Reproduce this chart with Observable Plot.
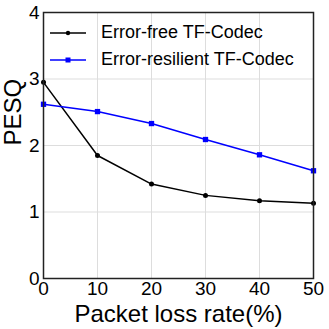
<!DOCTYPE html>
<html><head><meta charset="utf-8">
<script src="https://cdn.jsdelivr.net/npm/d3@7"></script>
<script src="https://cdn.jsdelivr.net/npm/@observablehq/plot@0.6"></script>
<style>
body{margin:0;background:#fff;font-family:"Liberation Sans",Arial,sans-serif;}
#wrap{position:relative;width:329px;height:329px;}
#legend{position:absolute;left:50px;top:19px;font-size:18px;line-height:27px;color:#000;}
#legend div{display:flex;align-items:center;white-space:nowrap;}
#legend svg{margin-right:15px;}
</style></head><body>
<div id="wrap"><div id="legend"></div></div>
<script>
const lossRates = [0, 10, 20, 30, 40, 50];
const errorFree = [2.95, 1.85, 1.42, 1.25, 1.17, 1.13];
const errorResilient = [2.62, 2.51, 2.33, 2.09, 1.86, 1.62];
const seriesNames = ["Error-free TF-Codec", "Error-resilient TF-Codec"];
const seriesColors = ["#000000", "#0000ff"];
const xTicks = [0, 10, 20, 30, 40, 50];
const yTicks = [0, 1, 2, 3, 4];

const dataFree = lossRates.map((x, i) => ({x, y: errorFree[i]}));
const dataRes = lossRates.map((x, i) => ({x, y: errorResilient[i]}));

const chart = Plot.plot({
  width: 329, height: 329,
  marginLeft: 43, marginRight: 16, marginTop: 12, marginBottom: 51,
  style: {fontFamily: "Liberation Sans, Arial, sans-serif", fontSize: "19px", color: "#000", background: "#fff"},
  x: {domain: [0, 50], ticks: xTicks, label: null},
  y: {domain: [0, 4], ticks: yTicks, label: null},
  marks: [
    Plot.gridX(xTicks, {stroke: "#ddd", strokeOpacity: 1}),
    Plot.gridY(yTicks, {stroke: "#ddd", strokeOpacity: 1}),
    Plot.axisX({ticks: xTicks, tickSize: 0, tickPadding: 3, fontSize: 19, label: null, tickFormat: d3.format("d")}),
    Plot.axisY({ticks: yTicks, tickSize: 0, tickPadding: 4, fontSize: 19, label: null, tickFormat: d3.format("d")}),
    Plot.line(dataFree, {x: "x", y: "y", stroke: seriesColors[0], strokeWidth: 1.5}),
    Plot.dot(dataFree, {x: "x", y: "y", fill: seriesColors[0], r: 2.5, stroke: null}),
    Plot.line(dataRes, {x: "x", y: "y", stroke: seriesColors[1], strokeWidth: 1.5}),
    Plot.dot(dataRes, {x: "x", y: "y", fill: seriesColors[1], symbol: "square", r: 3, stroke: null}),
    Plot.frame({stroke: "#222", strokeWidth: 1.5}),
    Plot.text(["Packet loss rate(%)"], {frameAnchor: "bottom", lineAnchor: "middle", dy: 36, fontSize: 24, fill: "#000"}),
    Plot.text(["PESQ"], {frameAnchor: "left", lineAnchor: "middle", dx: -30, rotate: -90, fontSize: 24, fill: "#000"})
  ]
});
d3.select(chart).selectAll("text").attr("fill", "#000");
document.getElementById("wrap").prepend(chart);

const leg = d3.select("#legend");
seriesNames.forEach((name, i) => {
  const row = leg.append("div");
  const s = row.append("svg").attr("width", 36).attr("height", 10);
  s.append("line").attr("x1", 0).attr("x2", 36).attr("y1", 5).attr("y2", 5)
    .attr("stroke", seriesColors[i]).attr("stroke-width", 1.5);
  if (i === 0) s.append("circle").attr("cx", 18).attr("cy", 5).attr("r", 2.2).attr("fill", seriesColors[i]);
  else s.append("rect").attr("x", 15.5).attr("y", 2.5).attr("width", 5).attr("height", 5).attr("fill", seriesColors[i]);
  row.append("span").text(name);
});
</script>
</body></html>
